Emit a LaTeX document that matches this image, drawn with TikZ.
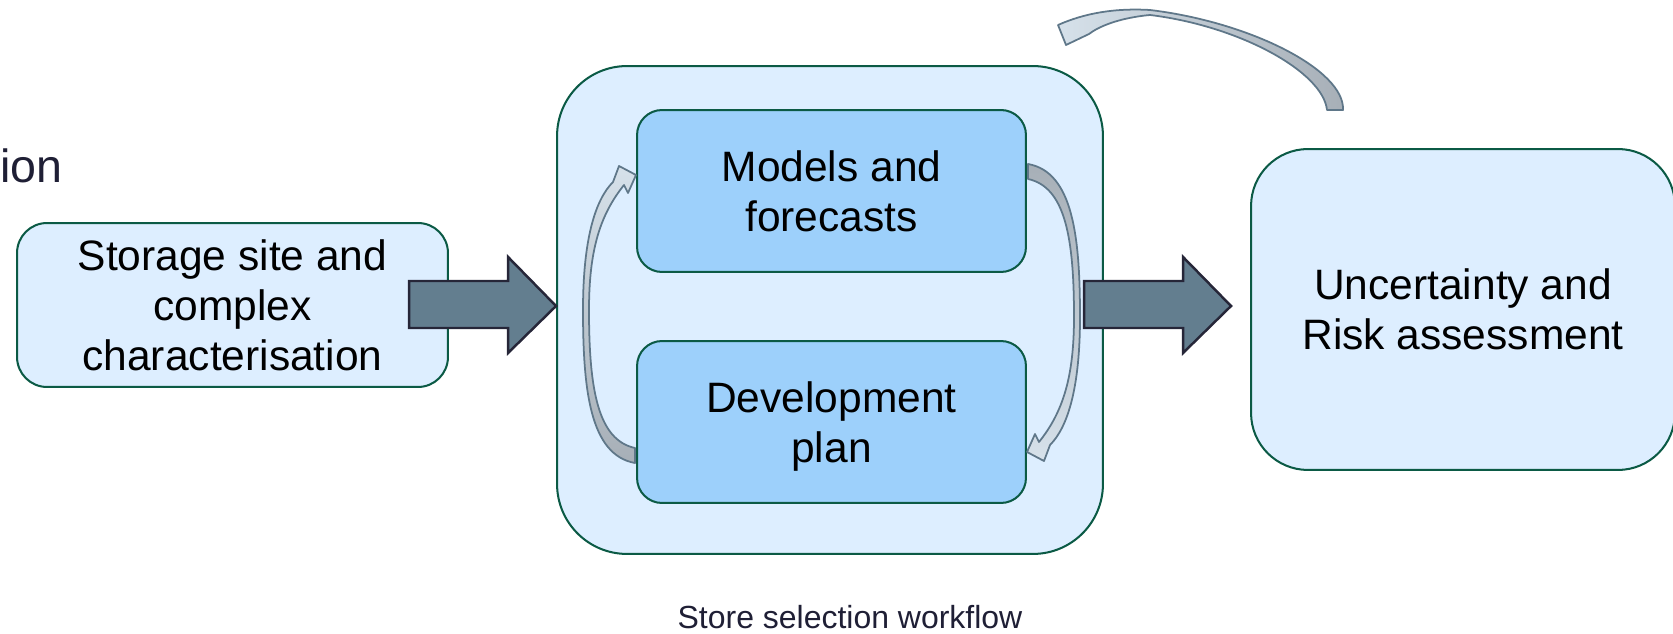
\documentclass[tikz,border=0pt]{standalone}
\usepackage{fontspec}
\setmainfont{Liberation Sans}
\usetikzlibrary{calc}
\definecolor{boxfill}{HTML}{DDEEFF}
\definecolor{innerfill}{HTML}{9DD0FB}
\definecolor{boxline}{HTML}{0B5A45}
\definecolor{barrowfill}{HTML}{637E8F}
\definecolor{barrowline}{HTML}{262638}
\definecolor{carrowline}{HTML}{5F7789}
\definecolor{carrowdark}{HTML}{A7AFB7}
\definecolor{carrowlight}{HTML}{D6E1EA}
\definecolor{textdark}{HTML}{1F1F35}
\begin{document}
\begin{tikzpicture}[x=0.02cm,y=-0.02cm,
  box/.style={draw=boxline, line width=1.15pt, fill=boxfill, align=center,
    font=\fontsize{24.2}{28.4}\selectfont, inner sep=0pt},
  innerbox/.style={box, fill=innerfill},
  blockarrow/.style={draw=barrowline, line width=1.4pt, fill=barrowfill, line join=miter},
  curvedarrow/.style={draw=carrowline, line width=1pt, line join=round}
]
\useasboundingbox (0,0) rectangle (1673,634);
\clip (0,0) rectangle (1673,634);

% partial title text
\node[font=\fontsize{26.5}{32}\selectfont, text=textdark, anchor=base east, inner sep=0pt] (partial) at (63,183) {ion};

% boxes
\node[box, minimum width=8.62cm, minimum height=3.28cm, rounded corners=0.6cm] (site) at (232.5,305)
  {Storage site and\\complex\\characterisation};
\node[box, minimum width=10.92cm, minimum height=9.76cm, rounded corners=1.4cm] (workflow) at (830,310) {};
\node[innerbox, minimum width=7.78cm, minimum height=3.24cm, rounded corners=0.5cm] (models) at (831.5,191)
  {Models and\\forecasts};
\node[innerbox, minimum width=7.78cm, minimum height=3.24cm, rounded corners=0.5cm] (devplan) at (831.5,422)
  {Development\\\raisebox{0pt}[\height][0pt]{plan}};
\node[box, minimum width=8.48cm, minimum height=6.42cm, rounded corners=1.14cm] (risk) at (1463,309.5)
  {Uncertainty and\\Risk assessment};

% block arrows
\coordinate (tipA) at ($(workflow.west)+(0,-4)$);
\draw[blockarrow] (tipA) -- ++(-48,-49) -- ++(0,24) -- ++(-99,0) -- ++(0,47) -- ++(99,0) -- ++(0,25) -- cycle;
\coordinate (tipB) at ($(risk.west)+(-19,-3.5)$);
\draw[blockarrow] (tipB) -- ++(-48,-49) -- ++(0,24) -- ++(-99,0) -- ++(0,47) -- ++(99,0) -- ++(0,25) -- cycle;

% curved arrow: development plan -> models
\draw[curvedarrow, top color=carrowlight, bottom color=carrowdark]
  (635,463) .. controls (590,455) and (583,390) .. (583,310)
  .. controls (583,240) and (595,200) .. (613,182)
  -- (619,166) -- (636,175) -- (628,193) -- (624,185)
  .. controls (600,215) and (589,250) .. (589,310)
  .. controls (589,390) and (598,440) .. (635,448) -- cycle;

% curved arrow: models -> development plan
\draw[curvedarrow, top color=carrowdark, bottom color=carrowlight]
  (1028,164) .. controls (1073,172) and (1080,237) .. (1080,317)
  .. controls (1080,387) and (1068,427) .. (1050,445)
  -- (1044,461) -- (1027,452) -- (1035,434) -- (1039,442)
  .. controls (1063,412) and (1074,377) .. (1074,317)
  .. controls (1074,237) and (1065,187) .. (1028,179) -- cycle;

% curved arrow at top
\draw[curvedarrow, left color=carrowlight, right color=carrowdark]
  (1343,110) .. controls (1345,70) and (1250,22) .. (1150,10)
  .. controls (1115,8) and (1085,13) .. (1058,25)
  -- (1066,45) -- (1089,34)
  .. controls (1098,27) and (1118,18) .. (1150,15)
  .. controls (1240,26) and (1323,72) .. (1327,110) -- cycle;

% caption
\node[font=\fontsize{18.2}{21}\selectfont, text=textdark, anchor=base, inner sep=0pt] (caption) at (850,628)
  {Store selection workflow};
\end{tikzpicture}
\end{document}
